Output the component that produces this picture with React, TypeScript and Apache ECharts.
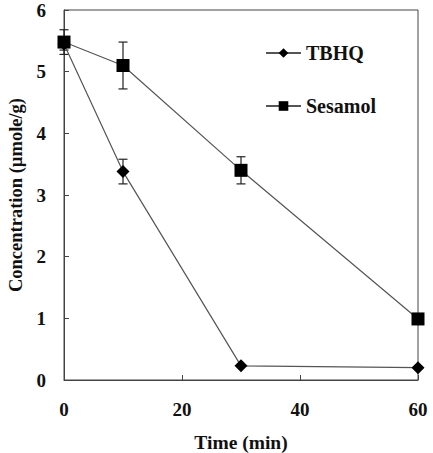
import React, { useEffect, useRef } from "react";
import * as echarts from "echarts";

// Sampling times (min)
const times = [0, 10, 30, 60];
// Mean concentrations (µmole/g)
const tbhq = [5.45, 3.38, 0.23, 0.2];
const sesamol = [5.48, 5.1, 3.4, 0.99];
// Standard deviations
const tbhqErr = [0.1, 0.2, 0, 0];
const sesamolErr = [0.2, 0.38, 0.22, 0];

const font = "Liberation Serif";

function errorSeries(name: string, values: number[], errs: number[]) {
  const data = times.map((t, i) => [t, values[i] - errs[i], values[i] + errs[i]]);
  return {
    type: "custom",
    name: name + "-err",
    z: 1,
    silent: true,
    renderItem: (params: any, api: any) => {
      const x = api.value(0);
      const lo = api.coord([x, api.value(1)]);
      const hi = api.coord([x, api.value(2)]);
      const cap = 4.5;
      const style = { stroke: "#222", lineWidth: 1.2 };
      return {
        type: "group",
        children: [
          { type: "line", shape: { x1: lo[0], y1: lo[1], x2: hi[0], y2: hi[1] }, style },
          { type: "line", shape: { x1: lo[0] - cap, y1: lo[1], x2: lo[0] + cap, y2: lo[1] }, style },
          { type: "line", shape: { x1: hi[0] - cap, y1: hi[1], x2: hi[0] + cap, y2: hi[1] }, style },
        ],
      };
    },
    data,
  };
}

export default function App() {
  const ref = useRef<HTMLDivElement>(null);
  useEffect(() => {
    const chart = echarts.init(ref.current!, undefined, { renderer: "svg" });
    chart.setOption({
      animation: false,
      backgroundColor: "#fff",
      grid: {
        left: 64,
        top: 10,
        right: 15,
        bottom: 73,
        show: true,
        borderColor: "#444",
        borderWidth: 1,
        outerBoundsMode: "none",
      },
      legend: {
        orient: "vertical",
        left: 260,
        top: 38,
        itemGap: 33,
        itemWidth: 35,
        itemHeight: 12,
        textStyle: { fontFamily: font, fontWeight: "bold", fontSize: 20, color: "#111" },
        data: ["TBHQ", "Sesamol"],
      },
      xAxis: {
        type: "value",
        min: 0,
        max: 60,
        interval: 20,
        name: "Time (min)",
        nameLocation: "middle",
        nameGap: 52,
        nameTextStyle: { fontFamily: font, fontWeight: "bold", fontSize: 19.5, color: "#111" },
        axisLine: { lineStyle: { color: "#444", width: 1 } },
        axisTick: { inside: true, length: 5, lineStyle: { color: "#444" } },
        splitLine: { show: false },
        axisLabel: { fontFamily: font, fontWeight: "bold", fontSize: 19, color: "#111", margin: 20 },
      },
      yAxis: {
        type: "value",
        min: 0,
        max: 6,
        interval: 1,
        name: "Concentration (µmole/g)",
        nameLocation: "middle",
        nameGap: 39,
        nameTextStyle: { fontFamily: font, fontWeight: "bold", fontSize: 18.5, color: "#111" },
        axisLine: { lineStyle: { color: "#444", width: 1 } },
        axisTick: { inside: true, length: 5, lineStyle: { color: "#444" } },
        splitLine: { show: false },
        axisLabel: { fontFamily: font, fontWeight: "bold", fontSize: 19, color: "#111", margin: 18 },
      },
      series: [
        errorSeries("TBHQ", tbhq, tbhqErr),
        errorSeries("Sesamol", sesamol, sesamolErr),
        {
          type: "line",
          name: "TBHQ",
          z: 3,
          data: times.map((t, i) => [t, tbhq[i]]),
          symbol: "diamond",
          symbolSize: [13, 13],
          itemStyle: { color: "#000" },
          lineStyle: { color: "#555", width: 1.2 },
        },
        {
          type: "line",
          name: "Sesamol",
          z: 3,
          data: times.map((t, i) => [t, sesamol[i]]),
          symbol: "rect",
          symbolSize: 13,
          itemStyle: { color: "#000" },
          lineStyle: { color: "#555", width: 1.2 },
        },
      ],
    });
    return () => chart.dispose();
  }, []);
  return <div ref={ref} style={{ width: 433, height: 453, position: "absolute", left: 0, top: 0 }} />;
}
